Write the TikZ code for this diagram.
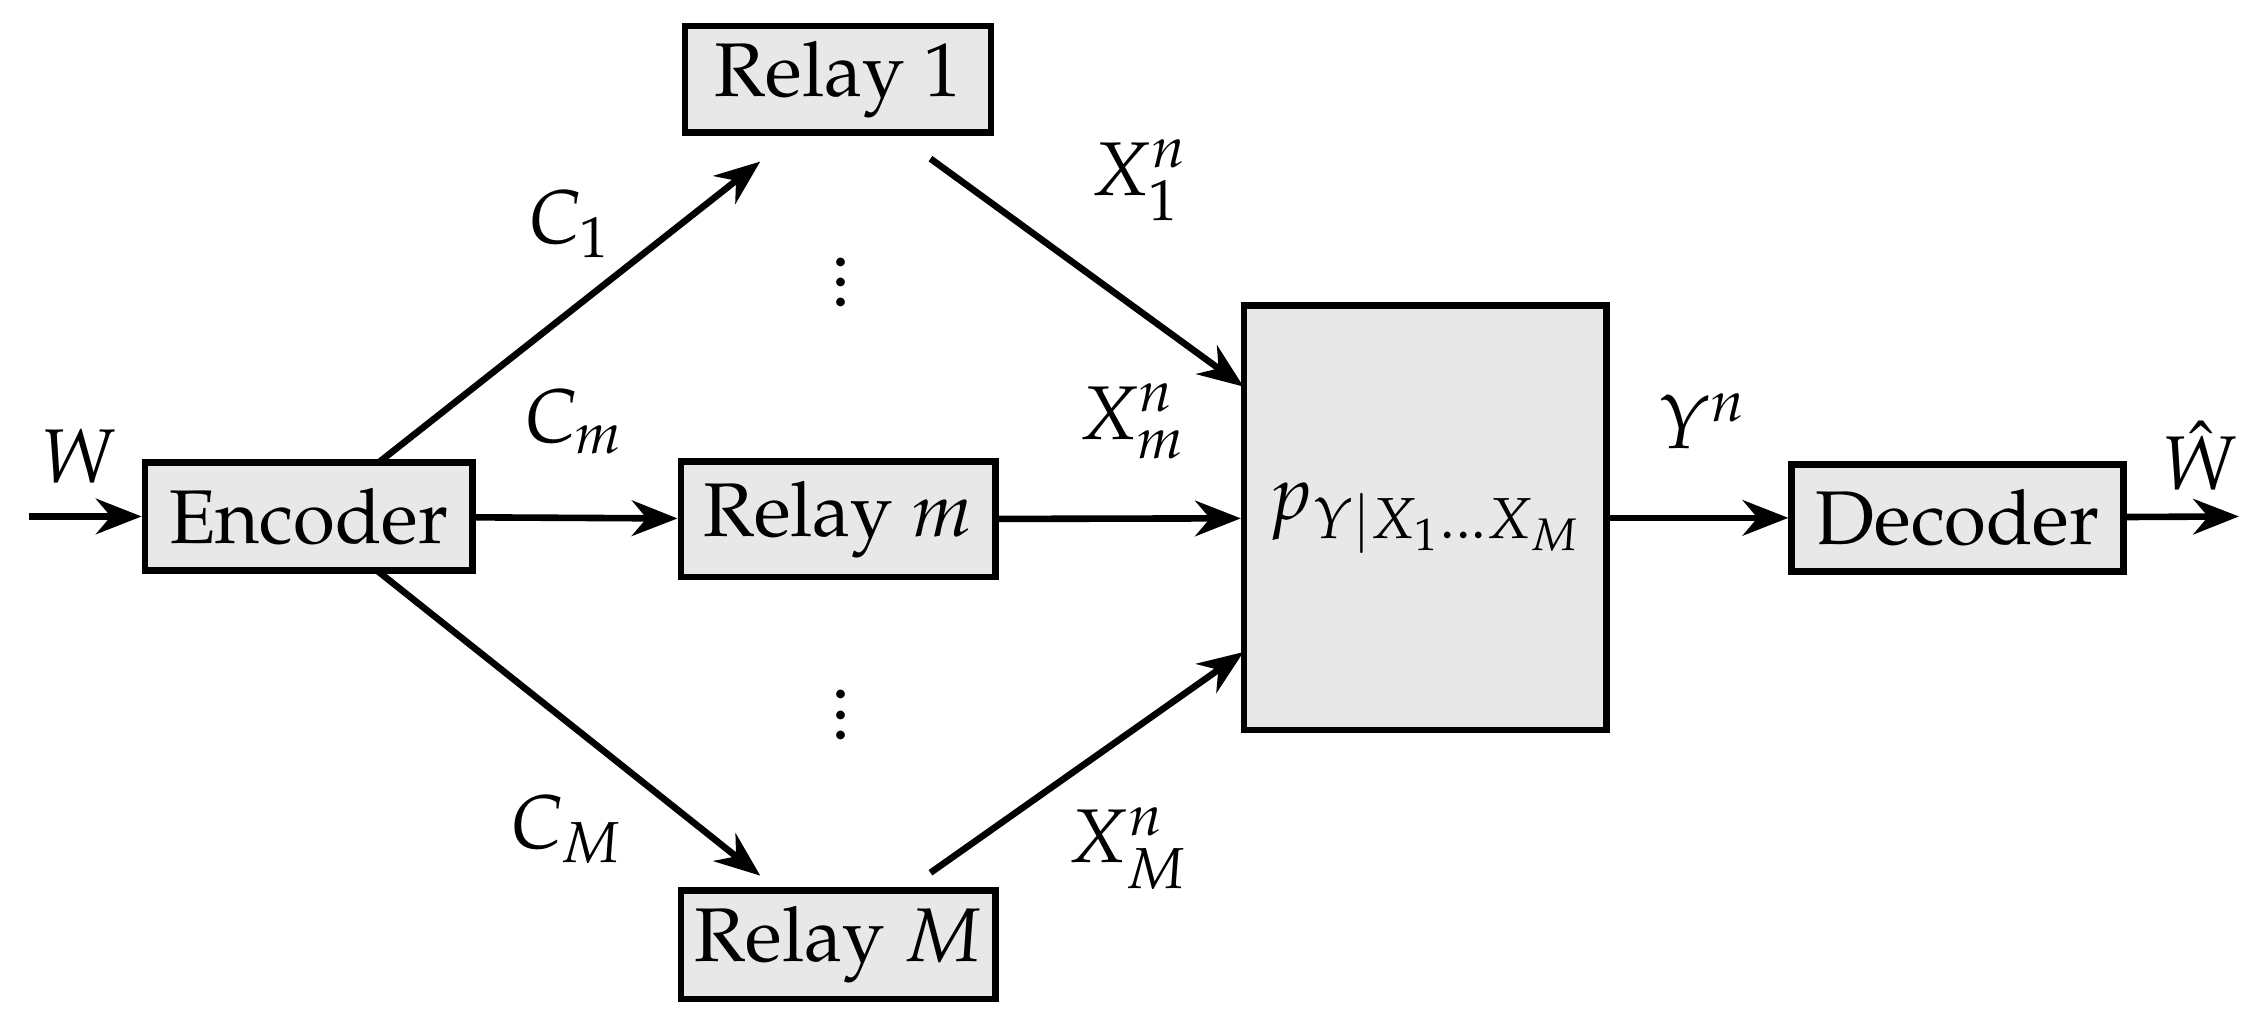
\documentclass[tikz,border=0pt]{standalone}
\usepackage[T1]{fontenc}
\usepackage{mathpazo}
\usetikzlibrary{arrows.meta}
\begin{document}
\begin{tikzpicture}[x=0.01cm,y=-0.01cm,
  box/.style={draw,line width=1.3pt,fill=gray!18,inner sep=0pt,font=\fontsize{15}{18}\selectfont},
  ar/.style={line width=1.3pt,-{Stealth[length=9pt,width=7pt]}},
  lab/.style={font=\fontsize{15}{18}\selectfont}]
\useasboundingbox (0,0) rectangle (1568,713);
\node[box,minimum width=2.27cm,minimum height=0.75cm] (enc) at (214,358) {Encoder};
\node[box,minimum width=2.12cm,minimum height=0.74cm] (r1) at (581,55) {Relay 1};
\node[box,minimum width=2.18cm,minimum height=0.80cm] (rm) at (581,360) {Relay $m$};
\node[box,minimum width=2.18cm,minimum height=0.75cm] (rM) at (581,655) {Relay $M$};
\node[box,minimum width=2.51cm,minimum height=2.94cm] (ch) at (988,359) {$p_{Y|X_1\ldots X_M}$};
\node[box,minimum width=2.3cm,minimum height=0.74cm] (dec) at (1357,359) {Decoder};
\coordinate (in) at (20,358);
\coordinate (out) at (1552,358);
\coordinate (e1) at (262,321);
\coordinate (e2) at (262,396);
\coordinate (t1) at (527,112);
\coordinate (t2) at (527,607);
\coordinate (s1) at (645,110);
\coordinate (s2) at (645,605);
\coordinate (c1) at (862,268);
\coordinate (c2) at (862,452);
\draw[ar] (in) -- (enc);
\draw[ar] (enc) -- (rm);
\draw[ar] (rm) -- (ch);
\draw[ar] (ch) -- (dec);
\draw[ar] (dec) -- (out);
\draw[ar] (e1) -- (t1);
\draw[ar] (e2) -- (t2);
\draw[ar] (s1) -- (c1);
\draw[ar] (s2) -- (c2);
\node[lab] (lw) at (55,316) {$W$};
\node[lab] (lwh) at (1525,316) {$\hat{W}$};
\node[lab] (lc1) at (395,155) {$C_1$};
\node[lab] (lcm) at (398,292) {$C_m$};
\node[lab] (lcM) at (393,575) {$C_M$};
\node[lab] (lx1) at (790,125) {$X_1^n$};
\node[lab] (lxm) at (785,292) {$X_m^n$};
\node[lab] (lxM) at (782,588) {$X_M^n$};
\node[lab] (ly) at (1180,292) {$Y^n$};
\node[lab,inner sep=0pt] (d1) at (583,185) {$\vdots$};
\node[lab,inner sep=0pt] (d2) at (583,485) {$\vdots$};
\end{tikzpicture}
\end{document}
